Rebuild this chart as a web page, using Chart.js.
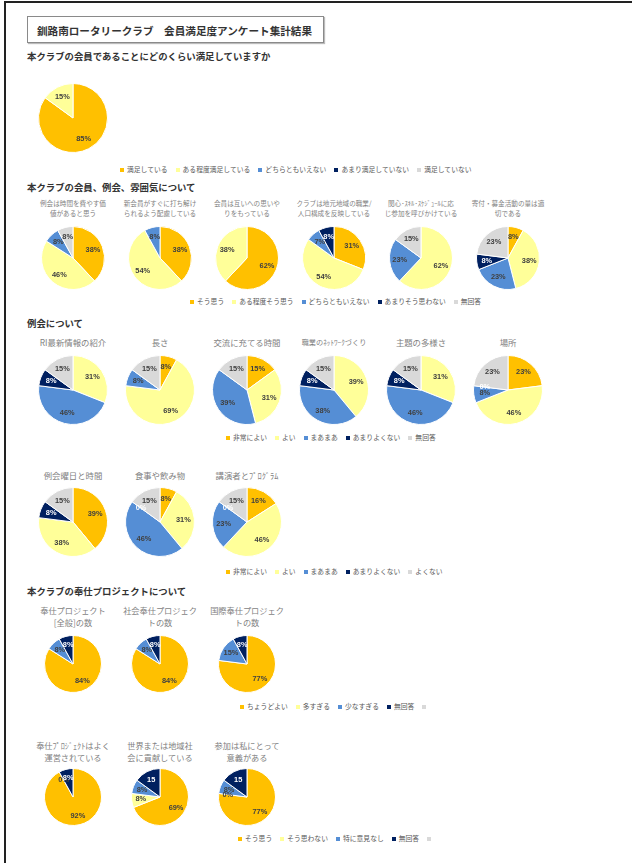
<!DOCTYPE html>
<html lang="ja">
<head>
<meta charset="utf-8">
<script src="https://cdn.jsdelivr.net/npm/chart.js@4.4.1/dist/chart.umd.min.js"></script>
<style>
  html, body { margin: 0; padding: 0; background: #fff; }
  #page { position: relative; width: 632px; height: 863px; overflow: hidden; font-family: "Noto Sans CJK JP", "Noto Sans", sans-serif; }
  .frame { position: absolute; left: 4px; top: 1px; width: 640px; height: 880px; border-top: 2px solid #222; border-left: 2px solid #222; }
  .titlebox { position: absolute; left: 27px; top: 16px; width: 297px; height: 27px; border: 1px solid #8a8a8a; box-shadow: 1px 1px 1px #bbb; font-weight: bold; font-size: 10.6px; color: #333; line-height: 27px; padding-left: 9px; box-sizing: border-box; white-space: nowrap; }
  .head { position: absolute; left: 27px; font-weight: bold; font-size: 9.4px; color: #333; white-space: nowrap; transform: translateY(-50%); }
  .sub { position: absolute; color: #7f7f7f; white-space: nowrap; text-align: center; transform: translate(-50%, -50%); line-height: 1.45; }
  .legend { position: absolute; display: flex; align-items: center; gap: 8px; font-size: 6.8px; color: #595959; white-space: nowrap; transform: translateY(-50%); }
  .legend span.m { display: inline-block; width: 4px; height: 4px; margin-right: 3px; vertical-align: middle; }
  canvas { position: absolute; }
</style>
</head>
<body>
<div id="page">
  <div class="frame"></div>
  <div class="titlebox">釧路南ロータリークラブ　会員満足度アンケート集計結果</div>
</div>
<script>
const sliceColors = ["#FFC000", "#FFFF99", "#558ED5", "#002060", "#D9D9D9"];

const q1Legend = ["満足している", "ある程度満足している", "どちらともいえない", "あまり満足していない", "満足していない"];
const q1Values = [85, 15, null, null, null];

const memberLegend = ["そう思う", "ある程度そう思う", "どちらともいえない", "あまりそう思わない", "無回答"];
const memberTitles = [
    ["例会は時間を費やす価", "値があると思う"],
    ["新会員がすぐに打ち解け", "られるよう配慮している"],
    ["会員は互いへの思いや", "りをもっている"],
    ["クラブは地元地域の職業/", "人口構成を反映している"],
    ["関心･ｽｷﾙ･ｽｹｼﾞｭｰﾙに応", "じ参加を呼びかけている"],
    ["寄付・募金活動の量は適", "切である"]
];
const memberValues = [
    [38, 46, 8, null, 8],
    [38, 54, 8, null, null],
    [62, 38, null, null, null],
    [31, 54, 7, 8, null],
    [null, 62, 23, null, 15],
    [8, 38, 23, 8, 23]
];

const meetingLegend = ["非常によい", "よい", "まあまあ", "あまりよくない", "無回答"];
const meetingTitles = ["RI最新情報の紹介", "長さ", "交流に充てる時間", "職業のﾈｯﾄﾜｰｸづくり", "主題の多様さ", "場所"];
const meetingValues = [
    [null, 31, 46, 8, 15],
    [8, 69, 8, null, 15],
    [15, 31, 39, null, 15],
    [null, 39, 38, 8, 15],
    [null, 31, 46, 8, 15],
    [23, 46, 8, 0, 23]
];

const meeting2Legend = ["非常によい", "よい", "まあまあ", "あまりよくない", "よくない"];
const meeting2Titles = ["例会曜日と時間", "食事や飲み物", "講演者とﾌﾟﾛｸﾞﾗﾑ"];
const meeting2Values = [
    [39, 38, null, 8, 15],
    [8, 31, 46, 0, 15],
    [16, 46, 23, 0, 15]
];

const serviceLegend = ["ちょうどよい", "多すぎる", "少なすぎる", "無回答", ""];
const serviceTitles = [["奉仕プロジェクト", "[全般]の数"], ["社会奉仕プロジェク", "トの数"], ["国際奉仕プロジェク", "トの数"]];
const serviceValues = [
    [84, null, 8, 8],
    [84, null, 8, 8],
    [77, null, 15, 8]
];

const opinionLegend = ["そう思う", "そう思わない", "特に意見なし", "無回答", ""];
const opinionTitles = [["奉仕ﾌﾟﾛｼﾞｪｸﾄはよく", "運営されている"], ["世界または地域社", "会に貢献している"], ["参加は私にとって", "意義がある"]];
const opinionValues = [
    [92, 0, null, 8],
    [69, 8, 8, 15],
    [77, 0, 8, 15]
];
// the navy labels that lost their % sign in the original
const opinionNavyText = ["8%", "15", "15"];

const page = document.getElementById("page");
const pieX = [73, 160, 247, 334, 421, 508];

// draws the percentage text inside each slice
const sliceLabels = {
    id: "sliceLabels",
    afterDatasetsDraw(chart) {
        const ctx = chart.ctx;
        const ds = chart.data.datasets[0];
        const arcs = chart.getDatasetMeta(0).data;
        ctx.save();
        ctx.textAlign = "center";
        ctx.textBaseline = "middle";
        for (let i = 0; i < arcs.length; i++) {
            if (!ds.labelText[i]) continue;
            const p = arcs[i].getProps(["x", "y", "startAngle", "endAngle", "outerRadius"], true);
            const mid = (p.startAngle + p.endAngle) / 2;
            const r = p.outerRadius * ds.labelPos;
            ctx.font = ds.labelFont;
            ctx.fillStyle = i == 3 ? "#ffffff" : "#404040";
            ctx.fillText(ds.labelText[i], p.x + Math.cos(mid) * r, p.y + Math.sin(mid) * r);
        }
        ctx.restore();
    }
};

function addText(cls, html, x, y, size) {
    const d = document.createElement("div");
    d.className = cls;
    d.innerHTML = html;
    if (x !== null) d.style.left = x + "px";
    d.style.top = y + "px";
    if (size) d.style.fontSize = size + "px";
    page.appendChild(d);
}

function addLegend(labels, x, y) {
    const d = document.createElement("div");
    d.className = "legend";
    d.style.left = x + "px";
    d.style.top = y + "px";
    for (let i = 0; i < labels.length; i++) {
        const item = document.createElement("div");
        item.innerHTML = `<span class="m" style="background:${sliceColors[i]}"></span>${labels[i]}`;
        d.appendChild(item);
    }
    page.appendChild(d);
}

function addPie(values, cx, cy, r, labelText, labelPos) {
    const size = 2 * r + 2;
    const canvas = document.createElement("canvas");
    canvas.width = size;
    canvas.height = size;
    canvas.style.left = (cx - size / 2) + "px";
    canvas.style.top = (cy - size / 2) + "px";
    canvas.style.width = size + "px";
    canvas.style.height = size + "px";
    page.appendChild(canvas);

    let data = [];
    let texts = [];
    for (let i = 0; i < values.length; i++) {
        data.push(values[i] === null ? 0 : values[i]);
        texts.push(values[i] === null ? "" : values[i] + "%");
    }
    if (labelText) texts[3] = labelText;

    new Chart(canvas, {
        type: "pie",
        data: {
            labels: values.map((v, i) => i),
            datasets: [{
                data: data,
                backgroundColor: sliceColors.slice(0, values.length),
                borderColor: "#ffffff",
                borderWidth: 1,
                labelText: texts,
                labelPos: labelPos || 0.68,
                labelFont: "bold 7.4px 'Liberation Sans', Arial, sans-serif"
            }]
        },
        options: {
            responsive: false,
            animation: false,
            layout: { padding: 0 },
            plugins: { legend: { display: false }, tooltip: { enabled: false } }
        },
        plugins: [sliceLabels]
    });
}

// first question
addText("head", "本クラブの会員であることにどのくらい満足していますか", null, 56);
addPie(q1Values, 73, 118, 34);
addLegend(q1Legend, 120, 169);

// members, meetings, atmosphere
addText("head", "本クラブの会員、例会、雰囲気について", null, 187);
for (let i = 0; i < memberValues.length; i++) {
    addText("sub", memberTitles[i].join("<br>"), pieX[i], 209, 6.6);
    addPie(memberValues[i], pieX[i], 258, 31);
}
addLegend(memberLegend, 190, 301);

// meetings
addText("head", "例会について", null, 323);
for (let i = 0; i < meetingValues.length; i++) {
    addText("sub", meetingTitles[i], pieX[i], 342, i == 3 ? 7.2 : 8.4);
    addPie(meetingValues[i], pieX[i], 390, 34);
}
addLegend(meetingLegend, 226, 437);

for (let i = 0; i < meeting2Values.length; i++) {
    addText("sub", meeting2Titles[i], pieX[i], 475, 8.4);
    addPie(meeting2Values[i], pieX[i], 522, 34);
}
addLegend(meeting2Legend, 226, 571);

// service projects
addText("head", "本クラブの奉仕プロジェクトについて", null, 591);
for (let i = 0; i < serviceValues.length; i++) {
    addText("sub", serviceTitles[i].join("<br>"), pieX[i], 617, 8.2);
    addPie(serviceValues[i], pieX[i], 664, 28);
}
addLegend(serviceLegend, 240, 706);

for (let i = 0; i < opinionValues.length; i++) {
    addText("sub", opinionTitles[i].join("<br>"), pieX[i], 752, 8.2);
    addPie(opinionValues[i], pieX[i], 797, 28, opinionNavyText[i]);
}
addLegend(opinionLegend, 238, 838);
</script>
</body>
</html>
